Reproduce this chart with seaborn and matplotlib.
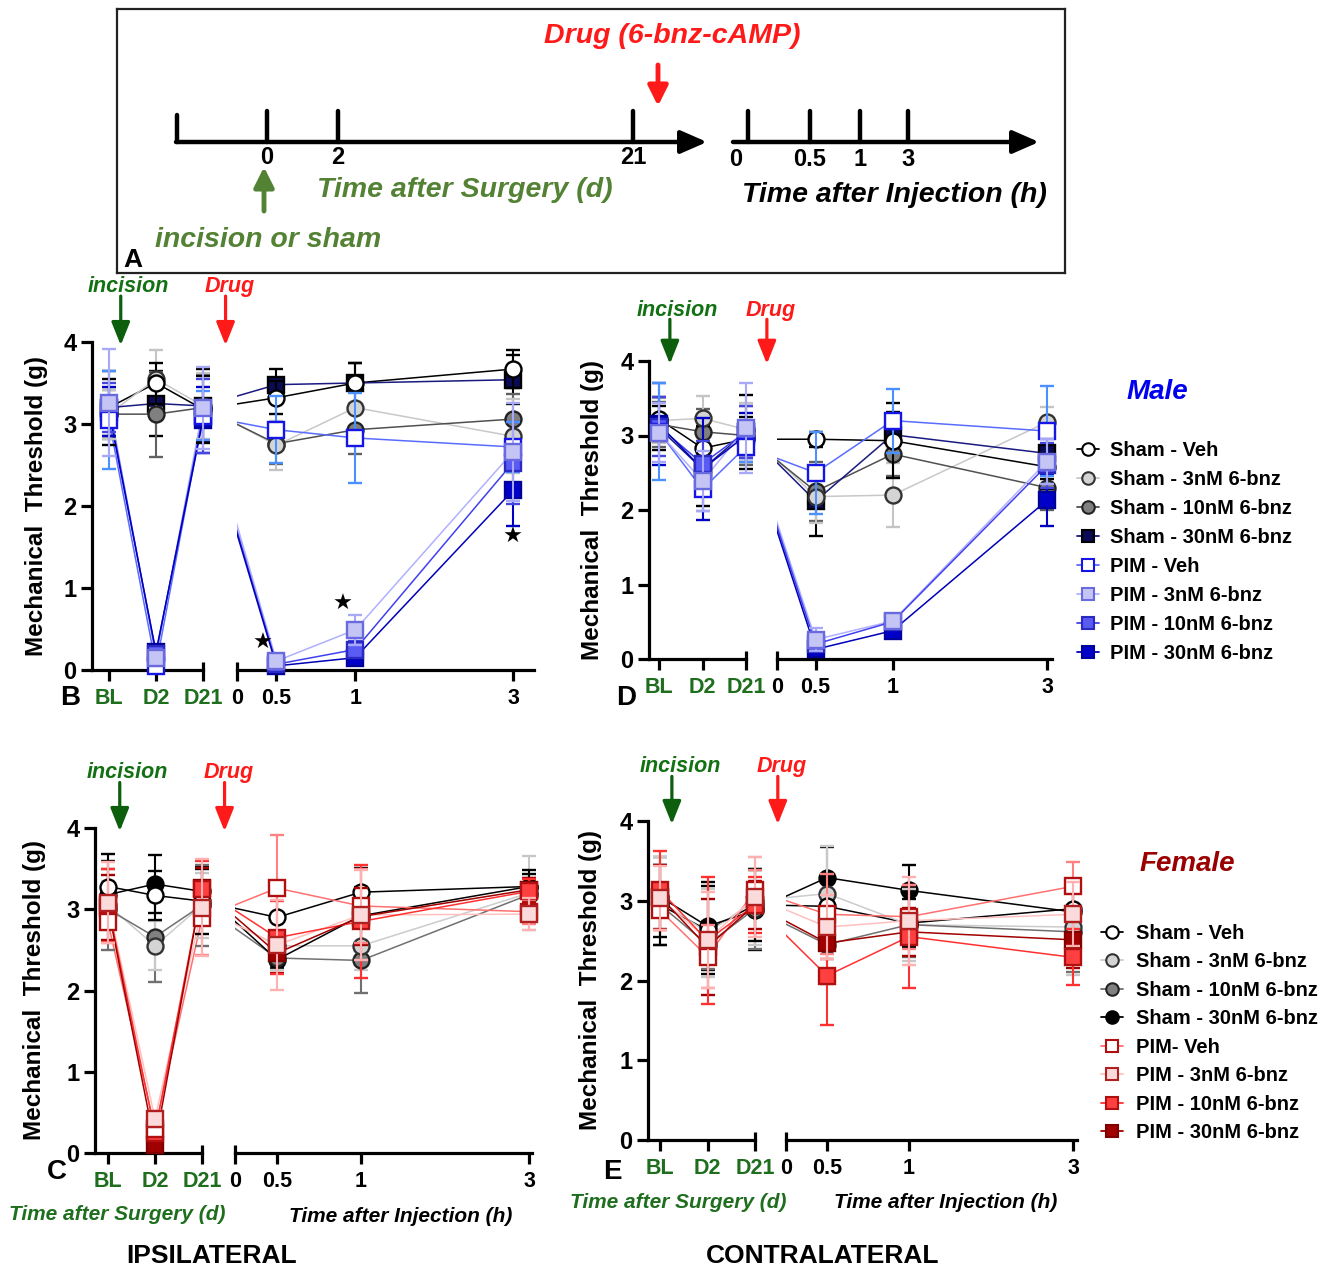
import numpy as np
import pandas as pd
import matplotlib
matplotlib.use('Agg')
import matplotlib.pyplot as plt
from matplotlib.lines import Line2D
import seaborn as sns

# ---- DATA (mean, SEM) : columns = BL, D2, D21, 0.5h, 1h, 3h
groups = ['Sham-Veh', 'Sham-3', 'Sham-10', 'Sham-30', 'PIM-Veh', 'PIM-3', 'PIM-10', 'PIM-30']
male_labels = ['Sham - Veh', 'Sham - 3nM 6-bnz', 'Sham - 10nM 6-bnz', 'Sham - 30nM 6-bnz',
               'PIM - Veh', 'PIM - 3nM 6-bnz', 'PIM - 10nM 6-bnz', 'PIM - 30nM 6-bnz']
female_labels = ['Sham - Veh', 'Sham - 3nM 6-bnz', 'Sham - 10nM 6-bnz', 'Sham - 30nM 6-bnz',
                 'PIM- Veh', 'PIM - 3nM 6-bnz', 'PIM - 10nM 6-bnz', 'PIM - 30nM 6-bnz']
surgery_labels = ['BL', 'D2', 'D21']
inj_tick_labels = ['0', '0.5', '1', '3']

# B: male ipsilateral
B_mean = [[3.20, 3.50, 3.18, 3.32, 3.50, 3.67],
          [3.12, 3.55, 3.22, 2.74, 3.20, 2.85],
          [3.12, 3.12, 3.20, 2.76, 2.93, 3.06],
          [3.20, 3.25, 3.22, 3.48, 3.50, 3.54],
          [3.05, 0.05, 3.10, 2.93, 2.83, 2.72],
          [3.26, 0.15, 3.20, 0.11, 0.49, 2.66],
          [3.20, 0.20, 3.10, 0.07, 0.25, 2.53],
          [3.15, 0.22, 3.05, 0.05, 0.15, 2.19]]
B_sem = [[0.35, 0.25, 0.40, 0.20, 0.25, 0.23],
         [0.30, 0.35, 0.40, 0.30, 0.30, 0.45],
         [0.30, 0.52, 0.40, 0.25, 0.30, 0.30],
         [0.45, 0.40, 0.45, 0.19, 0.25, 0.30],
         [0.60, 0.05, 0.30, 0.41, 0.55, 0.30],
         [0.65, 0.10, 0.50, 0.05, 0.18, 0.60],
         [0.30, 0.08, 0.45, 0.04, 0.10, 0.50],
         [0.30, 0.08, 0.40, 0.04, 0.05, 0.43]]
B_star_times = [0.5, 1, 3]
B_star_y = [0.33, 0.80, 1.62]

# D: male contralateral
D_mean = [[3.22, 2.83, 2.95, 2.95, 2.93, 2.58],
          [3.20, 3.23, 3.08, 2.18, 2.20, 3.18],
          [3.15, 3.05, 3.00, 2.25, 2.75, 2.30],
          [3.10, 2.55, 3.05, 2.12, 3.01, 2.76],
          [3.05, 2.28, 2.85, 2.50, 3.20, 3.06],
          [3.04, 2.39, 3.10, 0.26, 0.51, 2.65],
          [3.12, 2.62, 3.05, 0.20, 0.50, 2.60],
          [3.15, 2.55, 3.00, 0.13, 0.38, 2.13]]
D_sem = [[0.30, 0.30, 0.30, 0.10, 0.50, 0.30],
         [0.30, 0.30, 0.35, 0.35, 0.43, 0.20],
         [0.30, 0.30, 0.40, 0.40, 0.30, 0.30],
         [0.30, 0.50, 0.50, 0.47, 0.30, 0.35],
         [0.65, 0.30, 0.20, 0.55, 0.43, 0.60],
         [0.40, 0.40, 0.60, 0.15, 0.10, 0.30],
         [0.40, 0.30, 0.35, 0.08, 0.10, 0.30],
         [0.55, 0.68, 0.30, 0.05, 0.10, 0.35]]

# C: female ipsilateral
C_mean = [[3.28, 3.17, 3.10, 2.90, 3.21, 3.28],
          [3.05, 2.55, 3.05, 2.55, 2.55, 3.20],
          [3.00, 2.66, 3.05, 2.40, 2.37, 3.18],
          [3.18, 3.31, 3.22, 2.38, 2.92, 3.28],
          [2.84, 0.30, 2.89, 3.26, 3.04, 2.97],
          [3.08, 0.42, 3.02, 2.56, 2.93, 2.94],
          [3.05, 0.25, 3.25, 2.65, 2.85, 3.22],
          [3.02, 0.10, 3.26, 2.46, 2.91, 3.24]]
C_sem = [[0.40, 0.30, 0.40, 0.30, 0.30, 0.20],
         [0.30, 0.30, 0.40, 0.30, 0.30, 0.45],
         [0.50, 0.55, 0.50, 0.10, 0.40, 0.20],
         [0.42, 0.36, 0.30, 0.10, 0.35, 0.15],
         [0.25, 0.10, 0.45, 0.65, 0.45, 0.15],
         [0.50, 0.10, 0.60, 0.55, 0.55, 0.20],
         [0.45, 0.12, 0.35, 0.45, 0.70, 0.15],
         [0.40, 0.08, 0.25, 0.25, 0.35, 0.15]]

# E: female contralateral
E_mean = [[2.95, 2.63, 2.95, 2.93, 2.72, 2.90],
          [3.00, 2.60, 3.00, 3.09, 2.70, 2.67],
          [2.95, 2.45, 2.90, 2.45, 2.70, 2.61],
          [3.05, 2.68, 2.88, 3.29, 3.13, 2.86],
          [2.88, 2.30, 3.13, 2.83, 2.80, 3.18],
          [3.03, 2.51, 3.05, 2.67, 2.75, 2.83],
          [3.13, 2.50, 2.95, 2.06, 2.55, 2.29],
          [3.05, 2.42, 2.95, 2.47, 2.61, 2.51]]
E_sem = [[0.50, 0.55, 0.45, 0.40, 0.30, 0.30],
         [0.55, 0.55, 0.55, 0.60, 0.45, 0.60],
         [0.50, 0.30, 0.50, 0.50, 0.40, 0.50],
         [0.50, 0.55, 0.50, 0.38, 0.32, 0.30],
         [0.25, 0.40, 0.25, 0.50, 0.40, 0.30],
         [0.40, 0.60, 0.50, 0.40, 0.55, 0.40],
         [0.50, 0.80, 0.35, 0.62, 0.65, 0.35],
         [0.40, 0.60, 0.30, 0.20, 0.30, 0.35]]

# ---- STYLES: marker, face, edge, line colour, error colour
male_styles = [('o', 'white', 'black', 'black', 'black'),
               ('o', '#d4d4d4', '#333333', '#c8c8c8', '#c4c4c4'),
               ('o', '#808080', '#222222', '#505050', '#606060'),
               ('s', '#0a0a55', 'black', '#1a1a80', 'black'),
               ('s', 'white', '#1515e6', '#5a6cff', '#4a90ff'),
               ('s', '#c5c5f5', '#6a6ae0', '#b0b0ff', '#a8a8f8'),
               ('s', '#5a5af5', '#2a2ac0', '#4040f0', '#4545e0'),
               ('s', '#0000c8', '#00009a', '#0000b8', '#0000c0')]
female_styles = [('o', 'white', 'black', 'black', 'black'),
                 ('o', '#d4d4d4', '#333333', '#cccccc', '#c8c8c8'),
                 ('o', '#808080', '#222222', '#707070', '#707070'),
                 ('o', 'black', 'black', 'black', 'black'),
                 ('s', 'white', '#b01010', '#ff7070', '#ff8080'),
                 ('s', '#fadada', '#b02020', '#ffc0c0', '#ffb0b0'),
                 ('s', '#ff4040', '#b01010', '#ff3030', '#ff3030'),
                 ('s', '#a00000', '#800000', '#a00000', '#a00000')]
# stacking order of the markers (higher = drawn on top)
z_rank = [3, 2, 1, 0, 6, 7, 5, 4]

inj_slots = [0, 1, 3, 7]      # segmented spacing of the 0, 0.5, 1, 3 h axis

green_tick = '#1e6e1e'
green_arrow = '#0d5e0d'
green_A = '#548235'

sns.set_theme(style='ticks', rc={'axes.edgecolor': 'black', 'xtick.color': 'black',
                                 'ytick.color': 'black', 'text.color': 'black',
                                 'axes.labelcolor': 'black'})
plt.rcParams['font.family'] = ['Liberation Sans', 'DejaVu Sans']
plt.rcParams['font.weight'] = 'bold'
plt.rcParams['axes.labelweight'] = 'bold'

W, H = 1344, 1268
fig = plt.figure(figsize=(W / 100, H / 100), dpi=100)


def fx(px):
    return px / W


def fy(py):
    return 1 - py / H


def draw_panel(lay, means, sems, styles, star_t=None, star_y=None):
    spine_x, bl_x, d21_x, zero_x, three_x, end_x, y0, y4, ylab_x = lay
    step = (d21_x - bl_x) / 2
    zero_pos = 2 + (zero_x - d21_x) / step
    inj_unit = (three_x - zero_x) / 7 / step
    slot_pos = zero_pos + inj_unit * np.array(inj_slots)
    x_all = np.r_[np.arange(3), slot_pos[1:]]

    axl = fig.add_axes([fx(spine_x), fy(y0), fx(d21_x - spine_x), (y0 - y4) / H])
    axr = fig.add_axes([fx(zero_x), fy(y0), fx(end_x - zero_x), (y0 - y4) / H], sharey=axl)

    rows = []
    for g, m, s in zip(groups, means, sems):
        for i in range(6):
            rows.append(dict(group=g, x=x_all[i], mean=m[i], sem=s[i], idx=i))
    df = pd.DataFrame(rows)
    pal = {g: st[3] for g, st in zip(groups, styles)}

    sns.lineplot(data=df[df.idx <= 2], x='x', y='mean', hue='group', hue_order=groups,
                 palette=pal, estimator=None, sort=False, legend=False, lw=1.1, ax=axl)
    sns.lineplot(data=df[df.idx >= 2], x='x', y='mean', hue='group', hue_order=groups,
                 palette=pal, estimator=None, sort=False, legend=False, lw=1.1, ax=axr)

    for k, (g, st) in enumerate(zip(groups, styles)):
        sub = df[df.group == g]
        for ax, part in ((axl, sub[sub.idx <= 2]), (axr, sub[sub.idx >= 3])):
            cont = ax.errorbar(part.x, part['mean'], yerr=part['sem'], fmt=st[0], ms=11.5,
                               mfc=st[1], mec=st[2], mew=1.7, ecolor=st[4], elinewidth=1.5,
                               capsize=5, capthick=1.5, zorder=3 + z_rank[k] * 0.1,
                               clip_on=False)
            for art in list(cont.lines[1]) + list(cont.lines[2]):
                art.set_clip_on(False)

    axl.set_xlim(-(bl_x - spine_x) / step, 2)
    axr.set_xlim(zero_pos, zero_pos + (end_x - zero_x) / step)
    axl.set_ylim(0, 4)

    for ax in (axl, axr):
        ax.set_facecolor('none')
        ax.spines[['top', 'right']].set_visible(False)
        ax.spines['bottom'].set_linewidth(2.3)
        ax.tick_params(axis='x', which='major', length=8, width=2.3, labelsize=15.5, pad=5)
        ax.tick_params(axis='x', which='minor', direction='in', length=6, width=2.3)
        ax.xaxis.remove_overlapping_locs = False
        ax.set_xlabel('')
        ax.set_ylabel('')
    axr.spines['left'].set_visible(False)
    axr.tick_params(axis='y', left=False, labelleft=False)
    axl.spines['left'].set_linewidth(2.3)
    axl.tick_params(axis='y', length=8, width=2.3, labelsize=17, pad=3)
    axl.set_yticks(range(5))
    axl.set_xticks(range(3))
    axl.set_xticklabels(surgery_labels)
    axl.set_xticks([2], minor=True)
    for t in axl.get_xticklabels():
        t.set_color(green_tick)
    axr.set_xticks(slot_pos)
    axr.set_xticklabels(inj_tick_labels)
    axr.set_xticks([zero_pos], minor=True)

    axl.set_ylabel('Mechanical  Threshold (g)', fontsize=17.5, va='center')
    axl.yaxis.set_label_coords((ylab_x - spine_x) / (d21_x - spine_x), 0.5)

    # incision / drug arrows
    for xa, dx, txt, tc, ac in ((0.25, 0.17, 'incision', '#137013', green_arrow),
                                (2.48, 0.08, 'Drug', '#ff1a1a', '#ff1a1a')):
        axl.annotate('', xy=(xa, 0.99), xytext=(xa, 1.14),
                     xycoords=('data', 'axes fraction'), annotation_clip=False,
                     arrowprops=dict(arrowstyle='-|>,head_length=0.7,head_width=0.28',
                                     mutation_scale=20, color=ac, lw=2.3,
                                     shrinkA=0, shrinkB=0))
        axl.text(xa + dx, 1.17, txt, transform=axl.get_xaxis_transform(), ha='center',
                 va='center', fontsize=15.5, style='italic', color=tc, clip_on=False)

    if star_t is not None:
        offs = [-10, -9, 0]
        for t, yv, o in zip(star_t, star_y, offs):
            xp = slot_pos[inj_tick_labels.index(f'{t:g}')]
            axr.annotate('\u2605', xy=(xp, yv), xytext=(o, 0), textcoords='offset points',
                         ha='center', va='center', fontsize=16, color='black',
                         family='DejaVu Sans', annotation_clip=False)
    return axl, axr


# panel layouts in pixels: spine, BL, D21, 0h, 3h, end, y(0), y(4), ylabel centre
draw_panel((92, 109, 203, 237, 513, 534, 670, 342, 37), B_mean, B_sem, male_styles,
           B_star_times, B_star_y)
draw_panel((649, 659, 746, 777, 1047, 1052, 659, 361, 593), D_mean, D_sem, male_styles)
draw_panel((95, 108, 202, 235, 529, 532, 1153, 828, 35), C_mean, C_sem, female_styles)
draw_panel((648, 660, 755, 786, 1073, 1077, 1140, 821, 590), E_mean, E_sem, female_styles)

for letter, (px, py) in zip('BDCE', [(70, 698), (626, 698), (57, 1172), (612, 1172)]):
    fig.text(fx(px), fy(py), letter, fontsize=20, ha='center', va='center')

fig.text(fx(117), fy(1214), 'Time after Surgery (d)', fontsize=15, style='italic',
         color=green_tick, ha='center', va='center')
fig.text(fx(401), fy(1216), 'Time after Injection (h)', fontsize=15, style='italic',
         ha='center', va='center')
fig.text(fx(678), fy(1203), 'Time after Surgery (d)', fontsize=15, style='italic',
         color=green_tick, ha='center', va='center')
fig.text(fx(946), fy(1203), 'Time after Injection (h)', fontsize=15, style='italic',
         ha='center', va='center')
fig.text(fx(212), fy(1256), 'IPSILATERAL', fontsize=19, ha='center', va='center')
fig.text(fx(823), fy(1256), 'CONTRALATERAL', fontsize=19, ha='center', va='center')


# ---- legends
def make_handles(styles):
    return [Line2D([], [], color=st[3], lw=1.3, marker=st[0], mfc=st[1], mec=st[2],
                   ms=9, mew=1.5) for st in styles]


fig.text(fx(1157), fy(392), 'Male', fontsize=20, style='italic', color='#0000ee',
         ha='center', va='center')
fig.legend(make_handles(male_styles), male_labels, loc='upper left',
           bbox_to_anchor=(fx(1077), fy(441)), frameon=False, fontsize=14.5,
           handlelength=1.1, handletextpad=0.55, labelspacing=0.5,
           borderaxespad=0, borderpad=0)
fig.text(fx(1187), fy(864), 'Female', fontsize=20, style='italic', color='#9b0000',
         ha='center', va='center')
fig.legend(make_handles(female_styles), female_labels, loc='upper left',
           bbox_to_anchor=(fx(1101), fy(924)), frameon=False, fontsize=14.5,
           handlelength=1.1, handletextpad=0.65, labelspacing=0.47,
           borderaxespad=0, borderpad=0)

# ---- panel A: timeline schematic
axA = fig.add_axes([fx(117), fy(273), fx(948), 264 / H])
axA.set_xlim(0, 948)
axA.set_ylim(264, 0)
axA.set_xticks([])
axA.set_yticks([])
axA.set_facecolor('none')
for s in axA.spines.values():
    s.set_visible(True)
    s.set_linewidth(1.6)
    s.set_color('#222222')

arrow_kw = dict(arrowstyle='-|>,head_length=0.8,head_width=0.35', mutation_scale=20,
                lw=3.2, color='black', shrinkA=0, shrinkB=0)
surg_tick_px = [150, 221, 516]
inj_tick_px = [631, 693, 743, 791]
axA.annotate('', xy=(590, 133), xytext=(59, 133), arrowprops=arrow_kw)
axA.plot([60, 60], [133, 106], color='black', lw=3.2)
for xp, lab in zip(surg_tick_px, ['0', '2', '21']):
    axA.plot([xp, xp], [133, 102], color='black', lw=3.2)
    axA.text(xp, 149, lab, ha='center', va='center', fontsize=17)
axA.annotate('', xy=(922, 133), xytext=(616, 133), arrowprops=arrow_kw)
for xp, lab, lx in zip(inj_tick_px, inj_tick_labels, [619, 693, 743, 791]):
    axA.plot([xp, xp], [133, 102], color='black', lw=3.2)
    axA.text(lx, 151, lab, ha='center', va='center', fontsize=17)

axA.text(555, 27, 'Drug (6-bnz-cAMP)', color='#ff1a1a', fontsize=20.5, style='italic',
         ha='center', va='center')
axA.annotate('', xy=(541, 97), xytext=(541, 56),
             arrowprops=dict(arrowstyle='-|>,head_length=0.6,head_width=0.3',
                             mutation_scale=20, lw=3.5, color='#ff1a1a',
                             shrinkA=0, shrinkB=0))
axA.annotate('', xy=(147, 158), xytext=(147, 202),
             arrowprops=dict(arrowstyle='-|>,head_length=0.6,head_width=0.3',
                             mutation_scale=20, lw=3.5, color=green_A,
                             shrinkA=0, shrinkB=0))
axA.text(348, 181, 'Time after Surgery (d)', color=green_A, fontsize=20.5, style='italic',
         ha='center', va='center')
axA.text(151, 231, 'incision or sham', color=green_A, fontsize=20.5, style='italic',
         ha='center', va='center')
axA.text(777, 186, 'Time after Injection (h)', fontsize=20.5, style='italic',
         ha='center', va='center')
axA.text(16, 251, 'A', fontsize=19, ha='center', va='center')

fig.savefig('out.png', dpi=100)
